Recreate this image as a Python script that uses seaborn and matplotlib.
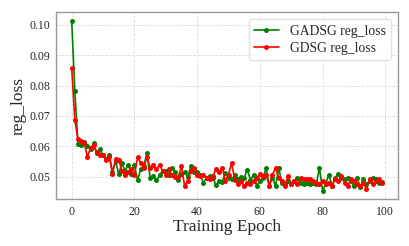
import numpy as np
import pandas as pd
import matplotlib
matplotlib.use("Agg")
import matplotlib.pyplot as plt
import seaborn as sns

epochs = list(range(100))

gadsg_loss = [
    0.1013, 0.0782, 0.0608, 0.0604, 0.0615, 0.0600, 0.0592, 0.0610, 0.0578, 0.0590,
    0.0570, 0.0560, 0.0572, 0.0515, 0.0552, 0.0508, 0.0545, 0.0520, 0.0540, 0.0510,
    0.0538, 0.0488, 0.0525, 0.0535, 0.0579, 0.0497, 0.0502, 0.0488, 0.0505, 0.0520,
    0.0518, 0.0507, 0.0529, 0.0515, 0.0490, 0.0510, 0.0515, 0.0500, 0.0534, 0.0517,
    0.0515, 0.0505, 0.0481, 0.0497, 0.0503, 0.0497, 0.0472, 0.0486, 0.0484, 0.0512,
    0.0497, 0.0492, 0.0505, 0.0492, 0.0500, 0.0497, 0.0523, 0.0490, 0.0507, 0.0470,
    0.0486, 0.0497, 0.0529, 0.0470, 0.0497, 0.0470, 0.0529, 0.0481, 0.0476, 0.0486,
    0.0476, 0.0486, 0.0497, 0.0481, 0.0476, 0.0478, 0.0476, 0.0480, 0.0476, 0.0530,
    0.0454, 0.0476, 0.0507, 0.0470, 0.0497, 0.0510, 0.0497, 0.0492, 0.0497, 0.0486,
    0.0470, 0.0497, 0.0465, 0.0492, 0.0476, 0.0486, 0.0497, 0.0492, 0.0481, 0.0484,
]

gdsg_loss = [
    0.0858, 0.0686, 0.0624, 0.0617, 0.0612, 0.0565, 0.0595, 0.0603, 0.0580, 0.0570,
    0.0570, 0.0555, 0.0565, 0.0510, 0.0560, 0.0555, 0.0520, 0.0505, 0.0515, 0.0525,
    0.0505, 0.0564, 0.0545, 0.0530, 0.0566, 0.0530, 0.0540, 0.0525, 0.0540, 0.0518,
    0.0507, 0.0525, 0.0505, 0.0500, 0.0500, 0.0535, 0.0470, 0.0486, 0.0518, 0.0529,
    0.0507, 0.0502, 0.0507, 0.0497, 0.0492, 0.0502, 0.0525, 0.0515, 0.0530, 0.0486,
    0.0507, 0.0545, 0.0490, 0.0476, 0.0486, 0.0470, 0.0481, 0.0476, 0.0486, 0.0497,
    0.0510, 0.0503, 0.0507, 0.0470, 0.0507, 0.0529, 0.0497, 0.0486, 0.0470, 0.0503,
    0.0476, 0.0486, 0.0476, 0.0497, 0.0492, 0.0492, 0.0492, 0.0486, 0.0481, 0.0476,
    0.0486, 0.0476, 0.0481, 0.0470, 0.0492, 0.0486, 0.0503, 0.0481, 0.0470, 0.0492,
    0.0486, 0.0476, 0.0470, 0.0481, 0.0460, 0.0492, 0.0476, 0.0486, 0.0492, 0.0478,
]

sns.set_style("whitegrid")
plt.rcParams["font.family"] = ["Liberation Serif", "DejaVu Serif"]

df = pd.DataFrame({"epoch": epochs, "GADSG reg_loss": gadsg_loss, "GDSG reg_loss": gdsg_loss})

fig, ax = plt.subplots(figsize=(4.1, 2.46), dpi=100)
fig.subplots_adjust(left=0.137, right=0.970, top=0.950, bottom=0.190)

sns.lineplot(data=df, x="epoch", y="GADSG reg_loss", ax=ax, color="green", marker="o",
             markersize=3.6, markeredgewidth=0, linewidth=1.2, label="GADSG reg_loss")
sns.lineplot(data=df, x="epoch", y="GDSG reg_loss", ax=ax, color="red", marker="o",
             markersize=3.6, markeredgewidth=0, linewidth=1.2, label="GDSG reg_loss")

ax.grid(True, linestyle="--", color="#dcdcdc", linewidth=0.6)
for s in ax.spines.values():
    s.set_color("#999999")
    s.set_linewidth(1.0)
ax.tick_params(axis="both", labelsize=8.5, length=2.5, width=0.6, color="#999999", pad=2)
ax.set_xlabel("Training Epoch", fontsize=12.5, labelpad=1)
ax.set_ylabel("reg_loss", fontsize=12.5, labelpad=2)
ax.set_xticks([0, 20, 40, 60, 80, 100])
ax.set_yticks([0.05, 0.06, 0.07, 0.08, 0.09, 0.10])
ax.legend(loc="upper right", fontsize=9.8, frameon=True, edgecolor="#dddddd",
          handlelength=1.8, borderpad=0.4, labelspacing=0.3)

fig.savefig("out.png", dpi=100)
